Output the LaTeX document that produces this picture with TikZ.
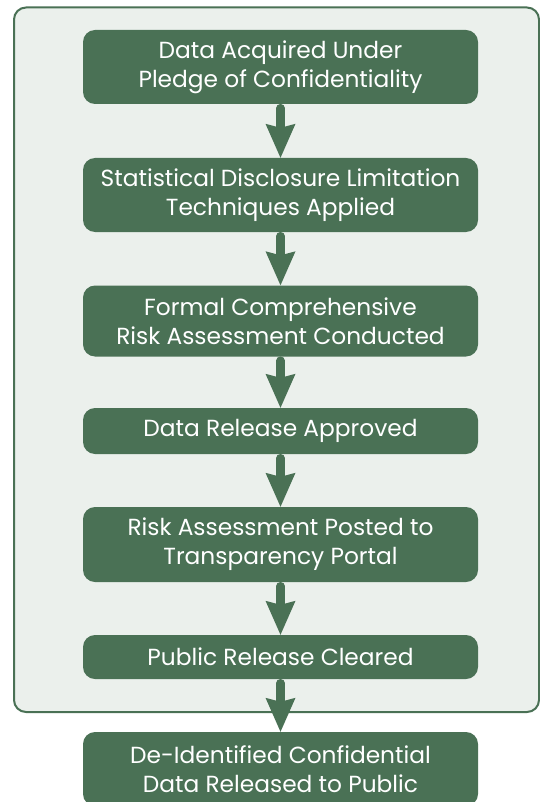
\documentclass[tikz,border=0pt]{standalone}
\usepackage{fontspec}
\setmainfont{Poppins}
\usetikzlibrary{arrows.meta}
\definecolor{dgreen}{HTML}{4A7155}
\definecolor{lgreen}{HTML}{EBF0EC}
\tikzset{
  stepbox/.style={rectangle, rounded corners=12pt, fill=dgreen, text=white,
    minimum width=395pt, align=center, inner sep=0pt,
    font=\fontsize{23.3}{29}\selectfont},
  flow/.style={draw=dgreen, line width=8.5pt, line cap=round, shorten <=4pt,
    -{Stealth[length=34pt,width=30pt,inset=4pt,line width=0pt]}},
}
\begin{document}
\begin{tikzpicture}[x=1pt,y=-1pt]
\useasboundingbox (0,0) rectangle (539,802);
\fill[white] (0,0) rectangle (539,802);
\draw[draw=dgreen, fill=lgreen, line width=2pt, rounded corners=12pt] (14,7.5) rectangle (539,712);
\node[stepbox, minimum height=74pt] (b1) at (280.5,67) {Data Acquired Under\\Pledge of Confidentiality};
\node[stepbox, minimum height=74pt] (b2) at (280.5,195) {Statistical Disclosure Limitation\\Techniques Applied};
\node[stepbox, minimum height=71pt] (b3) at (280.5,321) {Formal Comprehensive\\Risk Assessment Conducted};
\node[stepbox, minimum height=46pt] (b4) at (280.5,431) {Data Release Approved};
\node[stepbox, minimum height=75pt] (b5) at (280.5,544.5) {Risk Assessment Posted to\\Transparency Portal};
\node[stepbox, minimum height=44pt] (b6) at (280.5,657) {Public Release Cleared};
\node[stepbox, minimum height=74pt] (b7) at (280.5,769) {De-Identified Confidential\\Data Released to Public};
\draw[flow] (b1) -- (b2);
\draw[flow] (b2) -- (b3);
\draw[flow] (b3) -- (b4);
\draw[flow] (b4) -- (b5);
\draw[flow] (b5) -- (b6);
\draw[flow] (b6) -- (b7);
\end{tikzpicture}
\end{document}
